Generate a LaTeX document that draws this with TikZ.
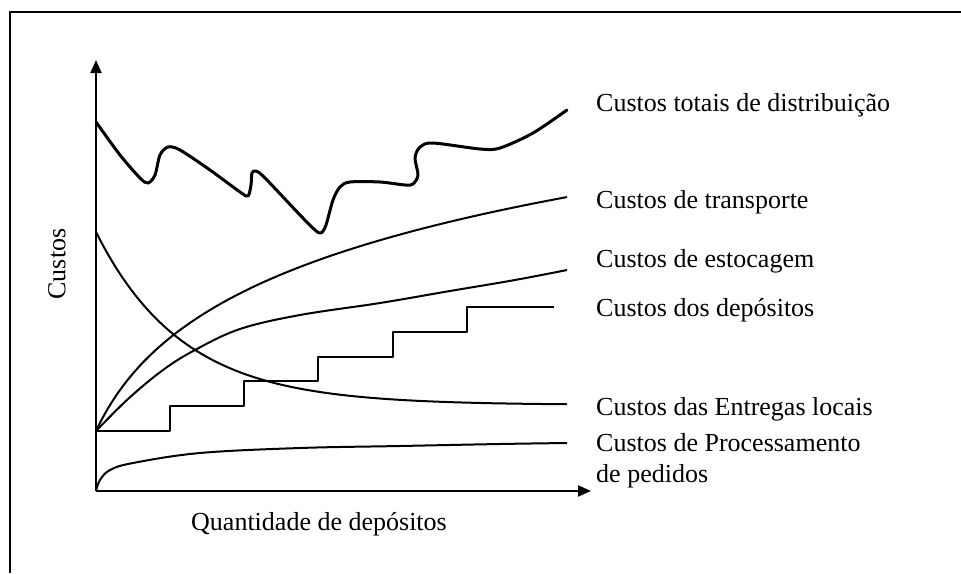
\documentclass[tikz,border=0pt]{standalone}
\usepackage{fontspec}
\setmainfont{Liberation Serif}
\usetikzlibrary{arrows.meta}
\begin{document}
\begin{tikzpicture}[x=1pt,y=-1pt,
  lbl/.style={anchor=base west,inner sep=0pt,font=\fontsize{26}{31}\selectfont},
  curve/.style={line width=2pt,line join=round},
  totalcurve/.style={line width=3pt,line join=round,line cap=round},
  axis/.style={line width=2pt,-{Triangle[length=13pt,width=11pt]}},
  frameline/.style={line width=2pt}]
\useasboundingbox (0,0) rectangle (961,573);
% frame
\draw[frameline] (9.5,12) -- (961,12);
\draw[frameline] (9.5,11) -- (9.5,573);
% axes
\coordinate (O) at (96,491);
\coordinate (ytip) at (96,60);
\coordinate (xtip) at (591,491);
\draw[axis] (O) -- (ytip);
\draw[axis] (O) -- (xtip);
% processamento
\draw[curve] plot[smooth,tension=0.6] coordinates {(96,491) (100,480) (110,470) (133,463) (200,453) (300,448) (400,446) (500,444) (567,443)};
% entregas locais
\draw[curve] plot[domain=96:567,samples=120] (\x,{405-173*exp(-(\x-96)/86.5)});
% estocagem
\draw[curve] plot[smooth,tension=0.6] coordinates {(96,431) (128,399) (163,370) (195,350) (240,329) (300,315) (380,303) (450,291) (515,280) (567,270)};
% transporte
\draw[curve] plot[domain=96:567,samples=120] (\x,{431-95.9*ln(1+(\x-96)/45)});
% depositos (steps)
\draw[curve] (96,431) -- (170,431) -- (170,406) -- (244,406) -- (244,381) -- (318,381) -- (318,357) -- (393,357) -- (393,332) -- (467,332) -- (467,307) -- (554,307);
% total
\draw[totalcurve] plot[smooth,tension=0.5] coordinates {(96,122) (120,155) (140,178) (148,183) (155,175) (160,155) (168,147) (180,150) (210,170) (240,192) (248,196) (251,185) (252,173) (256,171) (265,178) (300,215) (315,230) (321,233) (326,225) (333,200) (340,187) (350,182) (380,182) (405,185) (413,184) (418,175) (415,158) (420,147) (433,143) (480,149) (500,148) (533,133) (567,110)};
% labels
\node[lbl] (ltot) at (596,111) {Custos totais de distribuição};
\node[lbl] (ltra) at (596,208) {Custos de transporte};
\node[lbl] (lest) at (596,267) {Custos de estocagem};
\node[lbl] (ldep) at (596,316) {Custos dos depósitos};
\node[lbl] (lent) at (596,415) {Custos das Entregas locais};
\node[lbl] (lpro) at (596,451) {Custos de Processamento};
\node[lbl] (lped) at (596,482) {de pedidos};
\node[inner sep=0pt,font=\fontsize{26}{31}\selectfont,anchor=base] (lq) at (319,530) {Quantidade de depósitos};
\node[inner sep=0pt,font=\fontsize{26}{31}\selectfont,rotate=90] (lc) at (57,264) {Custos};
\end{tikzpicture}
\end{document}
